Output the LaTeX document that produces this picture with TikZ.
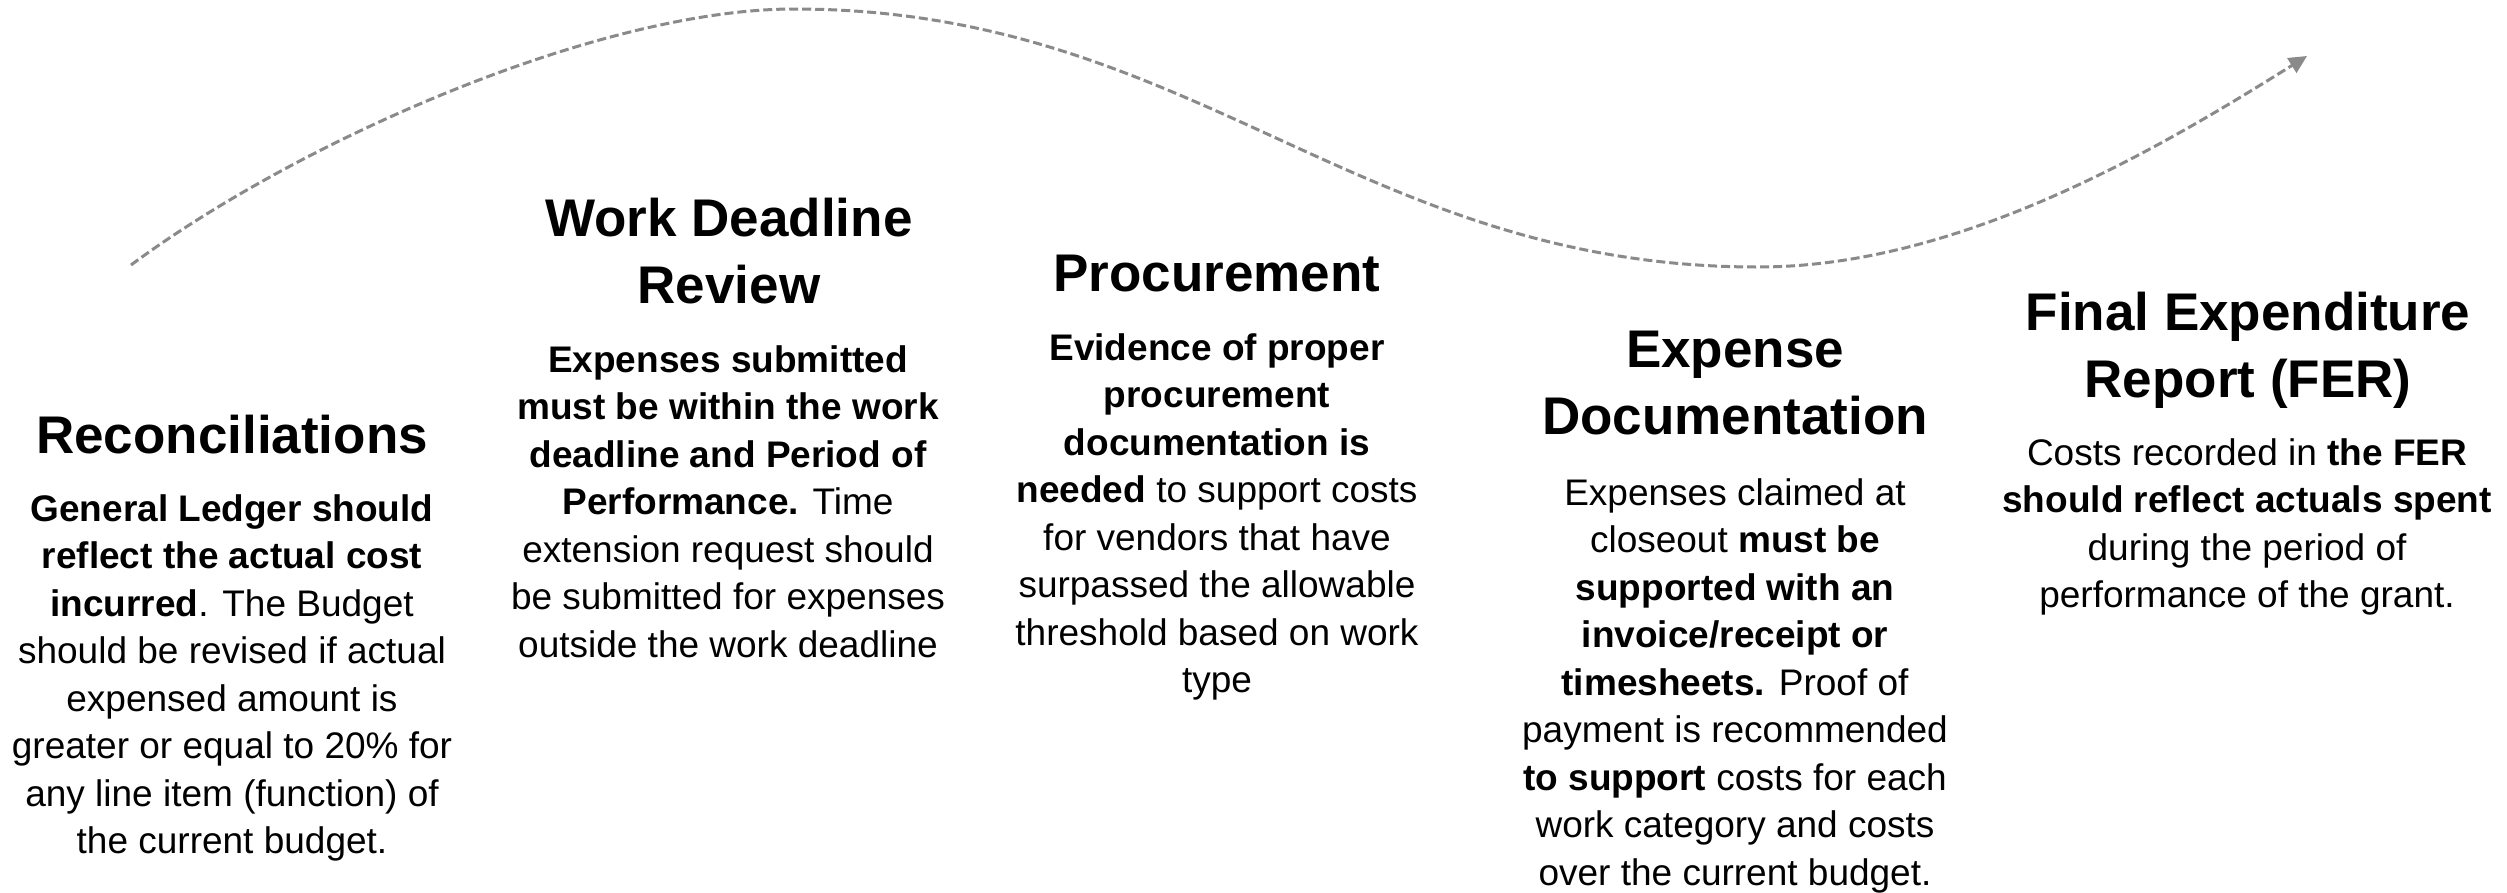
\documentclass[tikz,border=0pt]{standalone}
\usepackage{fontspec}
\setmainfont{Liberation Sans}
\usetikzlibrary{arrows.meta}

\definecolor{flowgray}{HTML}{8A8A8A}

\tikzset{
  steptitle/.style={anchor=north, align=center, inner sep=0pt,
    font=\fontsize{53}{67}\selectfont\bfseries, execute at begin node={\strut}},
  stepbody/.style={anchor=north, align=center, inner sep=0pt,
    font=\fontsize{37}{47.5}\selectfont, execute at begin node={\strut}},
  flowline/.style={draw=flowgray, line width=3pt, dash pattern=on 9pt off 4pt,
    -{Triangle[length=18pt,width=17pt]}}
}

\begin{document}
\begin{tikzpicture}[x=1pt,y=-1pt]
  % canvas
  \fill[white] (0,0) rectangle (2507,892);
  \useasboundingbox (0,0) rectangle (2507,892);

  % sweeping dashed path across the stages
  \coordinate (cs) at (131,265);
  \coordinate (cp) at (794,9);
  \coordinate (ct) at (1758,267);
  \coordinate (ce) at (2307,56);
  \draw[flowline] (cs) .. controls (300,140) and (600,9) .. (cp)
                       .. controls (1194,9) and (1358,267) .. (ct)
                       .. controls (1958,267) and (2157,150) .. (ce);

  % stage 1
  \node[steptitle] (recT) at (232,406) {Reconciliations};
  \node[stepbody] (recB) at (232,494) {\textbf{General Ledger should}\\
    \textbf{reflect the actual cost}\\
    \textbf{incurred}. The Budget\\
    should be revised if actual\\
    expensed amount is\\
    greater or equal to 20\% for\\
    any line item (function) of\\
    the current budget.};

  % stage 2
  \node[steptitle] (wdrT) at (729,198) {Work Deadline\\Review};
  \node[stepbody] (wdrB) at (728,345) {\textbf{Expenses submitted}\\
    \textbf{must be within the work}\\
    \textbf{deadline and Period of}\\
    \textbf{Performance.} Time\\
    extension request should\\
    be submitted for expenses\\
    outside the work deadline};

  % stage 3
  \node[steptitle] (prcT) at (1217,244) {Procurement};
  \node[stepbody] (prcB) at (1217,333) {\textbf{Evidence of proper}\\
    \textbf{procurement}\\
    \textbf{documentation is}\\
    \textbf{needed} to support costs\\
    for vendors that have\\
    surpassed the allowable\\
    threshold based on work\\
    type};

  % stage 4
  \node[steptitle] (docT) at (1735,331) {Expense\\Documentation};
  \node[stepbody] (docB) at (1735,478) {Expenses claimed at\\
    closeout \textbf{must be}\\
    \textbf{supported with an}\\
    \textbf{invoice/receipt or}\\
    \textbf{timesheets.} Proof of\\
    payment is recommended\\
    \textbf{to support} costs for each\\
    work category and costs\\
    over the current budget.};

  % stage 5
  \node[steptitle] (ferT) at (2248,292) {Final Expenditure\\Report (FER)};
  \node[stepbody] (ferB) at (2247,438) {Costs recorded in \textbf{the FER}\\
    \textbf{should reflect actuals spent}\\
    during the period of\\
    performance of the grant.};
\end{tikzpicture}
\end{document}
